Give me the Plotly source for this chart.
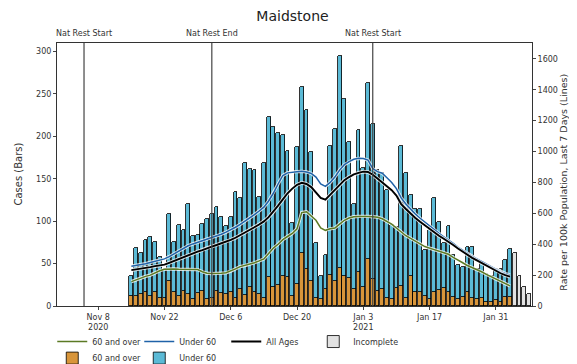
import pandas as pd
import plotly.graph_objects as go

# ---------------- data ----------------
bar_dates = pd.date_range("2020-11-15", "2021-02-03", freq="D")
incomplete_dates = pd.date_range("2021-02-04", "2021-02-07", freq="D")

total_cases = [
    35, 68, 62, 78, 81, 76, 58, 44, 108, 76, 96, 90, 120, 82, 84, 97,
    102, 109, 117, 105, 94, 105, 134, 127, 169, 161, 160, 128, 169, 223, 211, 204, 202, 183, 98, 187,
    258, 231, 181, 74, 35, 60, 189, 209, 295, 244, 193,
    120, 208, 163, 263, 214, 160, 157, 137, 95, 93, 189, 157, 131, 114, 114, 66, 89, 127, 99, 74,
    94, 60, 48, 46, 70, 69, 44, 51, 38, 35, 44,
    44, 54, 67,
]
cases_60_over = [
    12, 12, 14, 17, 12, 16, 10, 9, 30, 16, 12, 18, 14, 8, 15, 18,
    8, 10, 18, 15, 14, 16, 10, 20, 13, 22, 16, 14, 10, 34, 22, 25, 35, 34, 12, 26,
    62, 44, 30, 10, 8, 20, 37, 30, 45, 35, 33,
    20, 40, 22, 55, 32, 18, 20, 10, 8, 21, 24, 10, 35, 17, 17, 12, 8, 17, 19, 21,
    16, 11, 8, 11, 17, 9, 8, 9, 5, 5, 7,
    5, 11, 11,
]
cases_under_60 = [t - o for t, o in zip(total_cases, cases_60_over)]
incomplete_cases = [63, 35, 22, 14]

rate_all = [
    232, 236, 240, 246, 252, 258, 262, 268, 280, 292, 305, 318, 332, 342, 352, 362,
    375, 385, 395, 405, 415, 428, 442, 458, 475, 492, 510, 528, 548, 575, 610, 650, 690, 730, 760, 785,
    798, 790, 770, 735, 700, 688, 720, 755, 790, 815, 835,
    852, 862, 870, 868, 850, 825, 800, 775, 750, 715, 660, 628, 598, 570, 545, 522, 498, 475, 455, 435,
    416, 395, 372, 350, 330, 312, 295, 278, 262, 245, 228,
    212, 200, 190,
]
rate_under_60 = [
    258, 262, 268, 274, 282, 290, 296, 305, 320, 338, 355, 372, 390, 402, 412, 422,
    435, 445, 455, 465, 478, 492, 510, 528, 548, 570, 592, 615, 640, 680, 730, 790, 845, 862, 868, 870,
    872, 868, 858, 835, 790, 775, 800, 835, 880, 915, 935,
    950, 956, 955, 945, 890, 870, 860, 830, 800, 760, 700, 660, 625, 595, 568, 542, 516, 492, 470, 448,
    428, 405, 382, 360, 340, 322, 305, 288, 272, 255, 238,
    222, 210, 200,
]
rate_60_over = [
    158, 170, 182, 192, 200, 215, 228, 238, 240, 240, 238, 238, 238, 238, 236, 222,
    212, 210, 210, 212, 215, 225, 240, 255, 262, 270, 280, 292, 305, 340, 375, 400, 430, 450, 470, 500,
    605, 610, 585, 555, 505, 490, 500, 505, 530, 555, 570,
    578, 580, 582, 580, 578, 575, 565, 550, 530, 505, 478, 455, 438, 420, 400, 385, 375, 365, 360, 350,
    335, 315, 300, 280, 262, 250, 238, 222, 205, 190, 175,
    160, 145, 130,
]

event_dates = ["2020-11-05", "2020-12-02", "2021-01-05"]
event_labels = ["Nat Rest Start", "Nat Rest End", "Nat Rest Start"]

tick_dates = ["2020-11-08", "2020-11-22", "2020-12-06", "2020-12-20", "2021-01-03", "2021-01-17", "2021-01-31"]
tick_labels = ["Nov 8<br>2020", "Nov 22", "Dec 6", "Dec 20", "Jan 3<br>2021", "Jan 17", "Jan 31"]

# ---------------- styles ----------------
C_OVER = "#d8953a"
C_UNDER = "#5bbad6"
C_INC = "#e2e2e2"
L_OVER = "#5b7a24"
L_UNDER = "#1f62a8"
L_ALL = "#000000"
BAR_W = 0.8 * 86400000
FONT = "DejaVu Sans"

fig = go.Figure()

# bars (left axis)
fig.add_trace(go.Bar(x=bar_dates, y=cases_60_over, name="60 and over", width=BAR_W,
                     marker=dict(color=C_OVER, line=dict(color="black", width=0.8)),
                     legend="legend2", legendrank=1))
fig.add_trace(go.Bar(x=bar_dates, y=cases_under_60, name="Under 60", width=BAR_W,
                     marker=dict(color=C_UNDER, line=dict(color="black", width=0.8)),
                     legend="legend2", legendrank=2))
fig.add_trace(go.Bar(x=incomplete_dates, y=incomplete_cases, name="Incomplete", width=BAR_W,
                     marker=dict(color=C_INC, line=dict(color="black", width=0.8)),
                     legend="legend", legendrank=4))

# lines (right axis) with light halo
for ys, col, w, nm, rk in [(rate_60_over, L_OVER, 1.5, "60 and over", 1),
                           (rate_under_60, L_UNDER, 1.5, "Under 60", 2),
                           (rate_all, L_ALL, 1.9, "All Ages", 3)]:
    fig.add_trace(go.Scatter(x=bar_dates, y=ys, mode="lines", yaxis="y2", showlegend=False,
                             hoverinfo="skip", line=dict(color="rgba(255,255,255,0.8)", width=w + 1.8)))
    fig.add_trace(go.Scatter(x=bar_dates, y=ys, mode="lines", yaxis="y2", name=nm,
                             line=dict(color=col, width=w), legend="legend", legendrank=rk))

# event lines and labels
for d, lab in zip(event_dates, event_labels):
    fig.add_shape(type="line", xref="x", yref="paper", x0=d, x1=d, y0=0, y1=1,
                  line=dict(color="#444444", width=1.2), layer="above")
    fig.add_annotation(x=d, y=1.0, xref="x", yref="paper", yanchor="bottom", yshift=3,
                       text=lab, showarrow=False,
                       font=dict(size=8, color="#333333", family=FONT))

# axis titles as annotations
fig.add_annotation(x=-0.082, y=0.5, xref="paper", yref="paper", text="Cases (Bars)",
                   textangle=-90, showarrow=False, xanchor="center", yanchor="middle",
                   font=dict(size=10, color="#333333", family=FONT))
fig.add_annotation(x=1.066, y=0.47, xref="paper", yref="paper",
                   text="Rate per 100k Population, Last 7 Days (Lines)",
                   textangle=-90, showarrow=False, xanchor="center", yanchor="middle",
                   font=dict(size=9.5, color="#333333", family=FONT))

fig.update_layout(
    width=569, height=356,
    margin=dict(l=49, r=45, t=35, b=58, autoexpand=False),
    paper_bgcolor="white", plot_bgcolor="white",
    barmode="stack", bargap=0,
    font=dict(family=FONT, size=8, color="#333333"),
    title=dict(text="Maidstone", x=0.5, xanchor="center", y=0.9775, yanchor="middle",
               font=dict(size=14, color="#222222", family=FONT)),
    xaxis=dict(type="date", range=["2020-10-30 07:00", "2021-02-07 15:30"],
               tickvals=tick_dates, ticktext=tick_labels, ticks="outside", ticklen=3,
               showline=True, linecolor="#333333", linewidth=1, mirror=True,
               showgrid=False, zeroline=False, tickfont=dict(size=8), automargin=False),
    yaxis=dict(range=[0, 310], tickvals=[0, 50, 100, 150, 200, 250, 300], ticks="outside", ticklen=3,
               showline=True, linecolor="#333333", linewidth=1, mirror=True,
               showgrid=False, zeroline=False, tickfont=dict(size=8), automargin=False),
    yaxis2=dict(range=[0, 1703], tickvals=list(range(0, 1601, 200)), overlaying="y", side="right",
                ticks="outside", ticklen=3, showline=False, showgrid=False, zeroline=False,
                tickfont=dict(size=8), automargin=False),
    legend=dict(orientation="h", x=-0.01, xanchor="left", y=-0.08, yanchor="top",
                font=dict(size=8), itemwidth=30, tracegroupgap=0, bgcolor="rgba(0,0,0,0)",
                traceorder="normal", entrywidthmode="pixels", entrywidth=42),
    legend2=dict(orientation="h", x=-0.01, xanchor="left", y=-0.143, yanchor="top",
                 font=dict(size=8), itemwidth=30, bgcolor="rgba(0,0,0,0)", traceorder="normal",
                 entrywidthmode="pixels", entrywidth=42),
)

fig.write_html("out.html")
